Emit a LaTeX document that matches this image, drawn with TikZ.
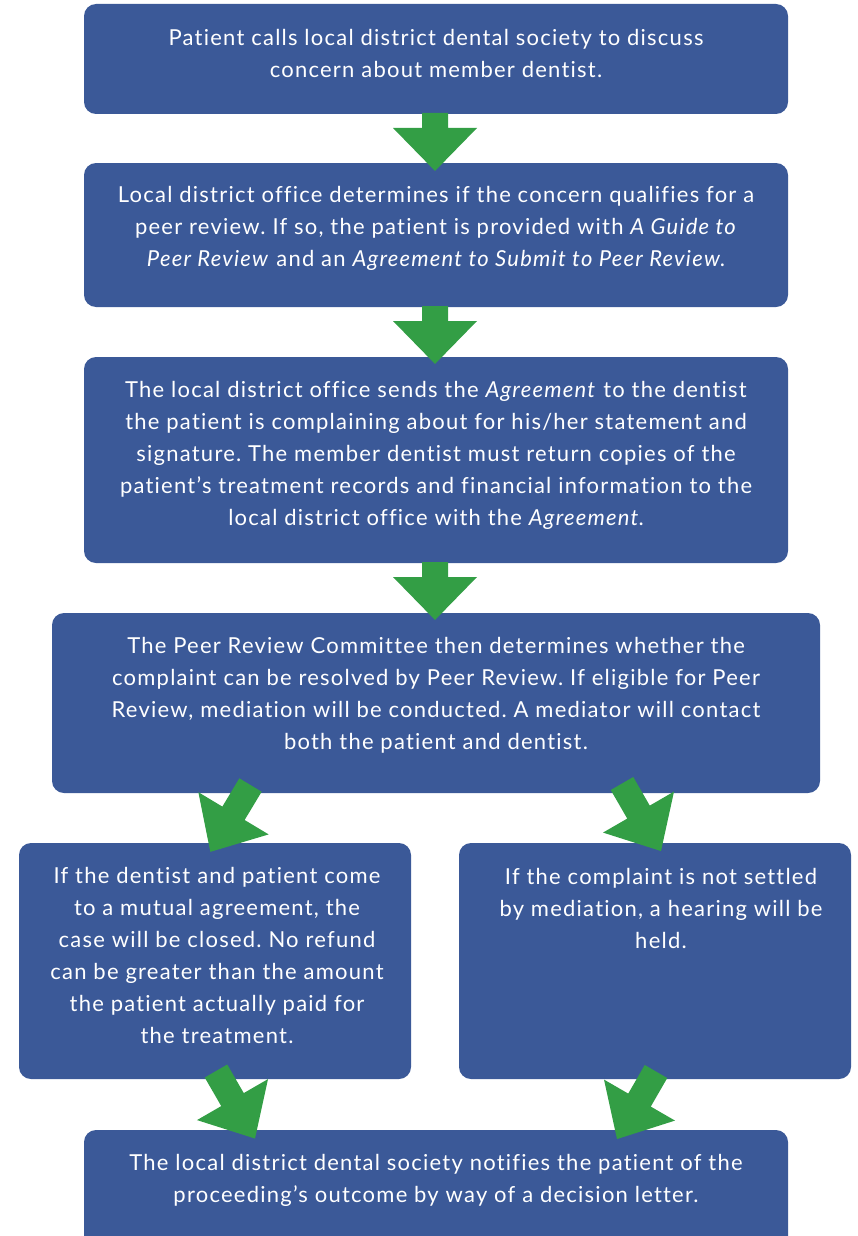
\documentclass[tikz,border=0pt]{standalone}
\usepackage{fontspec}
\setmainfont{Lato}[LetterSpace=5.6,Ligatures=NoCommon]
\definecolor{boxblue}{RGB}{59,89,152}
\definecolor{arrowgreen}{RGB}{51,158,69}
\begin{document}
\begin{tikzpicture}[x=1pt,y=-1pt,
  box/.style={fill=boxblue, rounded corners=12pt, inner sep=0pt},
  txt/.style={text=white, align=center, font=\fontsize{22}{32}\selectfont\frenchspacing, inner sep=0pt},
  vertarrow/.pic={\fill[arrowgreen] (-13,0) -- (13,0) -- (13,15) -- (42,15) -- (0,58) -- (-42,15) -- (-13,15) -- cycle;},
  diagarrow/.pic={\fill[arrowgreen] (-13,0) -- (13,0) -- (13,33) -- (41,33) -- (0,78) -- (-41,33) -- (-13,33) -- cycle;}]
\useasboundingbox (0,0) rectangle (857,1236);
\clip (0,0) rectangle (857,1236);
% boxes
\node[box, minimum width=704, minimum height=110] (b1) at (436,59) {};
\node[box, minimum width=704, minimum height=144] (b2) at (436,235) {};
\node[box, minimum width=704, minimum height=206] (b3) at (436,460) {};
\node[box, minimum width=768, minimum height=180] (b4) at (436,703) {};
\node[box, minimum width=392, minimum height=236] (b5) at (215,961) {};
\node[box, minimum width=392, minimum height=236] (b6) at (655,961) {};
\node[box, minimum width=704, minimum height=120] (b7) at (436,1190) {};
% texts
\node[txt] (t1) at (436,53) {Patient calls local district dental society to discuss\\concern about member dentist.};
\node[txt] (t2) at (436,228) {Local district office determines if the concern qualifies for a\\peer review. If so, the patient is provided with \textit{A Guide to}\\\textit{Peer Review} and an \textit{Agreement to Submit to Peer Review}.};
\node[txt] (t3) at (436,455) {The local district office sends the \textit{Agreement} to the dentist\\the patient is complaining about for his/her statement and\\signature. The member dentist must return copies of the\\patient’s treatment records and financial information to the\\local district office with the \textit{Agreement}.};
\node[txt] (t4) at (436,695) {The Peer Review Committee then determines whether the\\complaint can be resolved by Peer Review. If eligible for Peer\\Review, mediation will be conducted. A mediator will contact\\both the patient and dentist.};
\node[txt] (t5) at (217,955) {If the dentist and patient come\\to a mutual agreement, the\\case will be closed. No refund\\can be greater than the amount\\the patient actually paid for\\the treatment.};
\node[txt] (t6) at (661,908) {If the complaint is not settled\\by mediation, a hearing will be\\held.};
\node[txt] (t7) at (436,1180) {The local district dental society notifies the patient of the\\proceeding’s outcome by way of a decision letter.};
% arrows
\pic at (435,113) {vertarrow};
\pic at (435,306) {vertarrow};
\pic at (435,562) {vertarrow};
\pic[rotate=-31] at (250.5,785) {diagarrow};
\pic[rotate=30] at (622,783.5) {diagarrow};
\pic[rotate=30] at (216,1071) {diagarrow};
\pic[rotate=-30] at (656,1071.5) {diagarrow};
\end{tikzpicture}
\end{document}
